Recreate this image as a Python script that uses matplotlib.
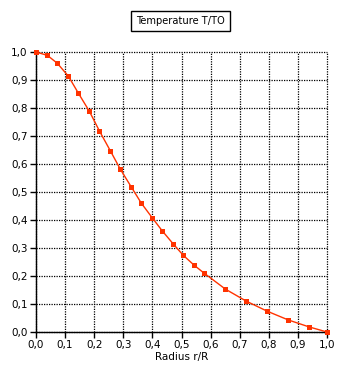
import matplotlib
matplotlib.use("Agg")
import matplotlib.pyplot as plt
from matplotlib.ticker import FuncFormatter, MultipleLocator

radius = [0, 0.039, 0.073, 0.111, 0.145, 0.183, 0.218, 0.255, 0.29, 0.328, 0.362, 0.40,
          0.434, 0.472, 0.506, 0.544, 0.578, 0.651, 0.723, 0.795, 0.867, 0.939, 1.0]
temperature = [1.0, 0.988, 0.96, 0.914, 0.854, 0.789, 0.718, 0.648, 0.581, 0.517, 0.46, 0.407,
               0.361, 0.314, 0.274, 0.238, 0.21, 0.153, 0.11, 0.074, 0.043, 0.018, 0.0]

title = "Temperature T/TO"
xlabel = "Radius r/R"

fig = plt.figure(figsize=(3.62, 3.79), dpi=100)
ax = fig.add_axes([36/362, 1-332/379, (327-36)/362, (332-52)/379])

ax.plot(radius, temperature, color="#ff3300", lw=1, marker="s", ms=3.6,
        markeredgewidth=0, clip_on=False, zorder=3)

ax.set_xlim(0, 1)
ax.set_ylim(0, 1)
ax.xaxis.set_major_locator(MultipleLocator(0.1))
ax.yaxis.set_major_locator(MultipleLocator(0.1))
fmt = FuncFormatter(lambda v, p: f"{v:.1f}".replace(".", ","))
ax.xaxis.set_major_formatter(fmt)
ax.yaxis.set_major_formatter(fmt)
ax.tick_params(direction="out", length=4, width=1, color="black", labelsize=7.5, pad=2)
ax.grid(True, color="black", linestyle=(0, (1, 1)), linewidth=0.9)
for gl in ax.get_xgridlines() + ax.get_ygridlines():
    gl.set_clip_on(False)
for s in ["top", "right"]:
    ax.spines[s].set_visible(False)
for s in ["left", "bottom"]:
    ax.spines[s].set_linewidth(1)
    ax.spines[s].set_zorder(2.5)
ax.set_xlabel(xlabel, fontsize=7.5, labelpad=1)

fig.text(180.5/362, 1-21/379, title, fontsize=7.1, ha="center", va="center",
         bbox=dict(boxstyle="square,pad=0.55", fc="white", ec="black", lw=1))

fig.savefig("out.png", dpi=100)
